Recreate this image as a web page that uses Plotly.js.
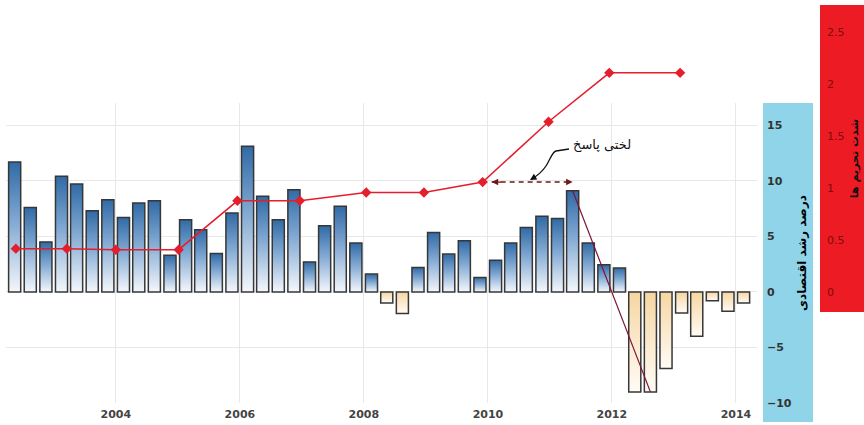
<!DOCTYPE html>
<html>
<head>
<meta charset="utf-8">
<script src="https://cdn.plot.ly/plotly-3.0.1.min.js"></script>
<style>
html,body{margin:0;padding:0;background:#fff;}
#chart{width:864px;height:425px;}
</style>
</head>
<body>
<div id="chart"></div>
<script>
// ---- Data ----
const quarterDates = [
  '2002-05-15','2002-08-15','2002-11-15',
  '2003-02-15','2003-05-15','2003-08-15','2003-11-15',
  '2004-02-15','2004-05-15','2004-08-15','2004-11-15',
  '2005-02-15','2005-05-15','2005-08-15','2005-11-15',
  '2006-02-15','2006-05-15','2006-08-15','2006-11-15',
  '2007-02-15','2007-05-15','2007-08-15','2007-11-15',
  '2008-02-15','2008-05-15','2008-08-15','2008-11-15',
  '2009-02-15','2009-05-15','2009-08-15','2009-11-15',
  '2010-02-15','2010-05-15','2010-08-15','2010-11-15',
  '2011-02-15','2011-05-15','2011-08-15','2011-11-15',
  '2012-02-15','2012-05-15','2012-08-15','2012-11-15',
  '2013-02-15','2013-05-15','2013-08-15','2013-11-15',
  '2014-02-15'
];
const growth = [
  11.7, 7.6, 4.5,
  10.4, 9.7, 7.3, 8.3,
  6.7, 8.0, 8.2, 3.3,
  6.5, 5.6, 3.45, 7.1,
  13.1, 8.6, 6.5, 9.2,
  2.7, 5.95, 7.7, 4.4,
  1.6, -1.0, -1.95, 2.2,
  5.35, 3.4, 4.6, 1.3,
  2.85, 4.4, 5.8, 6.8,
  6.6, 9.1, 4.4, 2.45,
  2.15, -9.0, -9.0, -6.9,
  -1.9, -4.0, -0.8, -1.75,
  -1.0
];
const sanctionDates = [
  '2002-05-22','2003-03-18','2004-01-01','2005-01-05','2005-12-17','2006-12-20',
  '2008-01-15','2008-12-20','2009-12-01','2010-12-24','2011-12-17','2013-02-06'
];
const sanctionIndex = [0.42, 0.42, 0.41, 0.41, 0.88, 0.88, 0.96, 0.96, 1.06, 1.64, 2.11, 2.11];

const growthTicks = [-10, -5, 0, 5, 10, 15];
const sanctionTicks = [0, 0.5, 1, 1.5, 2, 2.5];
const sanctionTickText = ['0', '0.5', '1', '1.5', '2', '2.5'];
const growthTitle = 'درصد رشد اقتصادی';
const sanctionTitle = 'شدت تحریم ها';
const lagLabel = 'لختی پاسخ';

// indices used for the annotation lines
const peakIdx = 36;      // 2011 Q2
const troughIdx = 41;    // 2012 Q3
const lagStartIdx = 8;   // sanction point at 2010

// ---- Styling ----
const posColor = 'rgb(120,165,210)';
const negColor = 'rgb(248,230,200)';
const redColor = 'rgb(228,30,45)';
const xRange = ['2002-03-25', '2014-05-05'];

const bars = {
  type: 'bar',
  x: quarterDates,
  y: growth,
  xaxis: 'x',
  yaxis: 'y',
  marker: {
    color: growth.map(v => v >= 0 ? posColor : negColor),
    line: {color: 'rgb(55,55,55)', width: 1.5}
  },
  hoverinfo: 'skip'
};

const sanctionLine = {
  type: 'scatter',
  mode: 'lines+markers',
  x: sanctionDates,
  y: sanctionIndex,
  xaxis: 'x2',
  yaxis: 'y3',
  line: {color: redColor, width: 1.5},
  marker: {symbol: 'diamond', size: 8, color: redColor},
  hoverinfo: 'skip'
};

const P = (px) => px / 864;
const Q = (py) => (425 - py) / 425;

const curvePath = 'M ' + P(569) + ',' + Q(149) +
  ' L ' + P(556) + ',' + Q(151) +
  ' C ' + P(552) + ',' + Q(152) + ' ' + P(550) + ',' + Q(160) + ' ' + P(546) + ',' + Q(166) +
  ' C ' + P(542) + ',' + Q(172) + ' ' + P(537) + ',' + Q(176) + ' ' + P(531) + ',' + Q(179.5);

const layout = {
  width: 864,
  height: 425,
  margin: {l: 0, r: 0, t: 0, b: 0},
  paper_bgcolor: '#ffffff',
  plot_bgcolor: 'rgba(0,0,0,0)',
  showlegend: false,
  bargap: 0.2,
  font: {family: 'DejaVu Sans, sans-serif', size: 11, color: '#333'},
  xaxis: {
    domain: [P(6), P(757)],
    type: 'date',
    range: xRange,
    tick0: '2004-01-01',
    dtick: 'M24',
    tickformat: '%Y',
    showgrid: true,
    gridcolor: '#e8e8e8',
    zeroline: false,
    showline: false,
    ticks: '',
    ticklabelstandoff: 3,
    tickfont: {size: 11, color: '#444', weight: 'bold'},
    anchor: 'y'
  },
  xaxis2: {
    type: 'date',
    overlaying: 'x',
    range: xRange,
    visible: false,
    anchor: 'y3'
  },
  yaxis: {
    domain: [Q(403), Q(103)],
    range: [-10, 17],
    side: 'right',
    anchor: 'x',
    tickvals: growthTicks,
    showgrid: true,
    gridcolor: '#e8e8e8',
    zeroline: false,
    showline: false,
    ticks: '',
    ticklabelstandoff: 9,
    tickfont: {size: 11, color: '#333', weight: 'bold'},
    title: {text: growthTitle, font: {size: 12, color: '#000', weight: 'bold'}, standoff: 6}
  },
  yaxis3: {
    domain: [Q(312), Q(5)],
    range: [-0.189, 2.7625],
    anchor: 'free',
    position: P(820),
    side: 'right',
    tickvals: sanctionTicks,
    ticktext: sanctionTickText,
    showgrid: false,
    zeroline: false,
    showline: false,
    ticks: '',
    ticklabelstandoff: 6,
    tickfont: {size: 11, color: 'rgb(130,10,10)'},
    title: {text: sanctionTitle, font: {size: 11, color: '#111', weight: 'bold'}, standoff: 6}
  },
  shapes: [
    {type: 'rect', xref: 'paper', yref: 'paper', x0: P(763), x1: P(813), y0: Q(422), y1: Q(103),
     fillcolor: 'rgb(143,212,232)', line: {width: 0}, layer: 'below'},
    {type: 'rect', xref: 'paper', yref: 'paper', x0: P(820), x1: 1, y0: Q(312), y1: Q(5),
     fillcolor: 'rgb(237,28,36)', line: {width: 0}, layer: 'below'},
    {type: 'line', xref: 'x', yref: 'y',
     x0: quarterDates[peakIdx], y0: growth[peakIdx], x1: quarterDates[troughIdx], y1: growth[troughIdx],
     line: {color: 'rgb(125,20,55)', width: 1.2}},
    {type: 'line', xref: 'x', yref: 'y3',
     x0: sanctionDates[lagStartIdx], x1: quarterDates[peakIdx],
     y0: sanctionIndex[lagStartIdx], y1: sanctionIndex[lagStartIdx],
     line: {color: 'rgb(110,25,25)', width: 1.5, dash: '5px,4px'}, layer: 'below'},
    {type: 'path', xref: 'paper', yref: 'paper', path: curvePath,
     line: {color: '#111', width: 1.3}}
  ],
  annotations: [
    {xref: 'paper', yref: 'paper', x: P(602), y: Q(145), xanchor: 'center', yanchor: 'middle',
     text: lagLabel, showarrow: false,
     font: {family: 'DejaVu Sans, sans-serif', size: 13, color: '#111'}},
    {xref: 'paper', yref: 'paper', x: P(530), y: Q(180), text: '', showarrow: true,
     ax: 5, ay: -3, arrowhead: 2, arrowsize: 1, arrowwidth: 1.3, arrowcolor: '#111'},
    {xref: 'x', yref: 'y3', x: sanctionDates[lagStartIdx], y: sanctionIndex[lagStartIdx], text: '',
     showarrow: true, ax: 20, ay: 0, standoff: 9, arrowhead: 2, arrowsize: 1, arrowwidth: 1.3,
     arrowcolor: 'rgb(110,25,25)'},
    {xref: 'x', yref: 'y3', x: quarterDates[peakIdx], y: sanctionIndex[lagStartIdx], text: '',
     showarrow: true, ax: -8, ay: 0, standoff: 0, arrowhead: 2, arrowsize: 1, arrowwidth: 1.3,
     arrowcolor: 'rgb(110,25,25)'}
  ]
};

function applyGradients(gd) {
  const ns = 'http://www.w3.org/2000/svg';
  const svg = gd.querySelector('svg.main-svg');
  let defs = svg.querySelector('defs');
  if (!defs) { defs = document.createElementNS(ns, 'defs'); svg.insertBefore(defs, svg.firstChild); }
  function makeGrad(id, stops) {
    const lg = document.createElementNS(ns, 'linearGradient');
    lg.setAttribute('id', id);
    lg.setAttribute('x1', '0'); lg.setAttribute('y1', '0');
    lg.setAttribute('x2', '0'); lg.setAttribute('y2', '1');
    stops.forEach(s => {
      const st = document.createElementNS(ns, 'stop');
      st.setAttribute('offset', s[0]);
      st.setAttribute('stop-color', s[1]);
      lg.appendChild(st);
    });
    defs.appendChild(lg);
  }
  makeGrad('gradPos', [['0', 'rgb(48,106,166)'], ['0.45', 'rgb(128,168,210)'], ['1', 'rgb(244,247,252)']]);
  makeGrad('gradNeg', [['0', 'rgb(246,214,162)'], ['1', 'rgb(255,252,246)']]);
  const paths = gd.querySelectorAll('.barlayer .trace .point path');
  paths.forEach((p, i) => {
    const v = growth[i];
    p.style.fill = v >= 0 ? 'url(#gradPos)' : 'url(#gradNeg)';
  });
}

const gd = document.getElementById('chart');
Plotly.newPlot(gd, [bars, sanctionLine], layout, {staticPlot: true, displayModeBar: false})
  .then(() => applyGradients(gd));
</script>
</body>
</html>
